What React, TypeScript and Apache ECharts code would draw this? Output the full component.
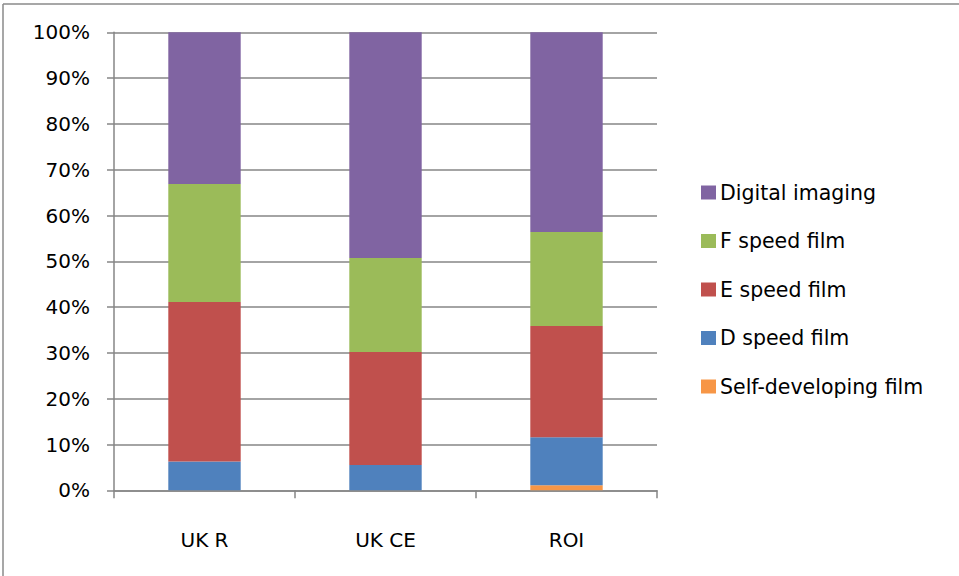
import React, { useEffect, useRef } from "react";
import * as echarts from "echarts";

const categories = ["UK R", "UK CE", "ROI"];
const selfDeveloping = [0, 0, 1.1];
const dSpeed = [6.3, 5.5, 10.5];
const eSpeed = [34.8, 24.7, 24.3];
const fSpeed = [25.8, 20.5, 20.5];
const digital = [33.1, 49.3, 43.6];
const yTicks = [0, 10, 20, 30, 40, 50, 60, 70, 80, 90, 100];

const seriesDefs = [
  { name: "Self-developing film", data: selfDeveloping, color: "#F79646" },
  { name: "D speed film", data: dSpeed, color: "#4F81BD" },
  { name: "E speed film", data: eSpeed, color: "#C0504D" },
  { name: "F speed film", data: fSpeed, color: "#9BBB59" },
  { name: "Digital imaging", data: digital, color: "#8064A2" },
];

const FONT = "'DejaVu Sans', sans-serif";

export default function App() {
  const ref = useRef<HTMLDivElement>(null);
  useEffect(() => {
    if (!ref.current) return;
    const chart = echarts.init(ref.current, null, { renderer: "svg" });
    chart.setOption({
      animation: false,
      backgroundColor: "#ffffff",
      textStyle: { fontFamily: FONT },
      grid: { left: 114, right: 302, top: 32.3, bottom: 85.7 },
      legend: {
        orient: "vertical",
        left: 696,
        top: 177,
        itemWidth: 15,
        itemHeight: 14,
        itemGap: 27.5,
        icon: "rect",
        data: seriesDefs.map((s) => s.name).reverse(),
        textStyle: { fontSize: 20.5, color: "#000", fontFamily: FONT, padding: [0, 0, 0, -1] },
      },
      xAxis: {
        type: "category",
        data: categories,
        axisLine: { lineStyle: { color: "#868686", width: 1.5 } },
        axisTick: { show: true, length: 8, lineStyle: { color: "#868686", width: 1.5 } },
        axisLabel: { fontSize: 20, color: "#000", margin: 40, fontFamily: FONT },
      },
      yAxis: {
        type: "value",
        min: 0,
        max: 100,
        interval: 10,
        axisLine: { show: true, lineStyle: { color: "#868686", width: 1.5 } },
        axisTick: { show: true, length: 7, lineStyle: { color: "#868686", width: 1.5 } },
        splitLine: { lineStyle: { color: "#868686", width: 1.5 } },
        axisLabel: {
          fontSize: 20,
          color: "#000",
          margin: 24,
          fontFamily: FONT,
          formatter: (v: number) => (yTicks.includes(v) ? v + "%" : ""),
        },
      },
      series: seriesDefs.map((s) => ({
        name: s.name,
        type: "bar",
        stack: "total",
        data: s.data,
        barWidth: "40%",
        itemStyle: { color: s.color },
      })),
      graphic: [
        { type: "line", shape: { x1: 3, y1: 4, x2: 959, y2: 4 }, style: { stroke: "#8a8a8a", lineWidth: 1.5 } },
        { type: "line", shape: { x1: 3, y1: 4, x2: 3, y2: 576 }, style: { stroke: "#8a8a8a", lineWidth: 1.5 } },
      ],
    });
    return () => chart.dispose();
  }, []);
  return (
    <div
      ref={ref}
      style={{ position: "fixed", left: 0, top: 0, width: 959, height: 576 }}
    />
  );
}
